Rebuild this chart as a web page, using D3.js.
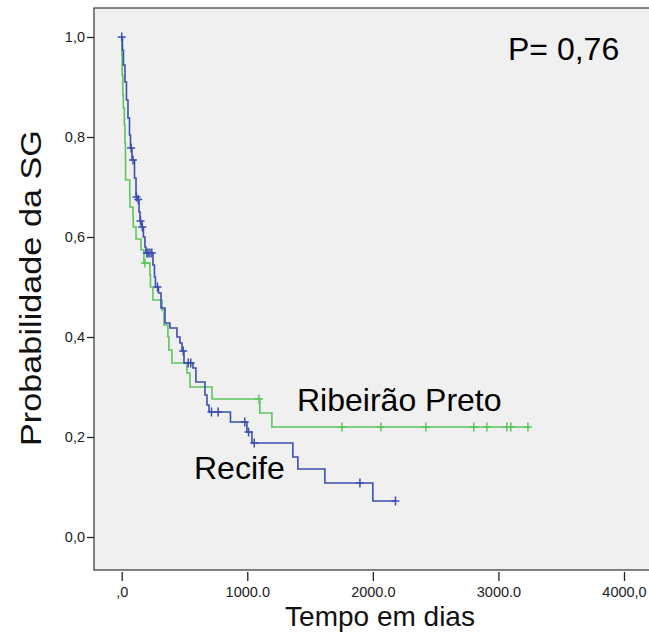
<!DOCTYPE html>
<html><head><meta charset="utf-8">
<script src="https://cdn.jsdelivr.net/npm/d3@7"></script>
<style>body{margin:0;background:#fff}svg{display:block}text{font-family:Arial,"Liberation Sans",sans-serif}</style>
</head><body>
<script>
// ---- data ----
const recifeTime = [6,14,26,38,50,62,70,82,102,114,122,138,146,158,173,185,193,249,261,269,293,313,345,384,440,464,480,496,567,591,663,679,695,866,997,1037,1363,1403,1618,2000];
const recifeSurv = [.974,.944,.91,.874,.838,.804,.778,.754,.718,.68,.675,.65,.632,.62,.60,.58,.568,.544,.52,.50,.488,.458,.428,.418,.40,.388,.372,.348,.338,.31,.284,.264,.25,.23,.21,.188,.16,.136,.108,.072];
const recifeEnd = 2180;
const recifeCensor = [0,75,90,118,132,150,164,200,210,225,240,285,490,530,550,715,768,980,1010,1055,1897,2180];

const ribTime = [1,4,9,13,21,26,30,31,64,66,90,92,114,154,177,225,229,249,321,337,368,376,400,520,544,719,1100,1196];
const ribSurv = [.964,.924,.884,.858,.824,.788,.754,.714,.684,.66,.64,.62,.596,.574,.548,.524,.50,.474,.454,.424,.40,.374,.348,.328,.30,.276,.248,.22];
const ribEnd = 3250;
const ribCensor = [185,1093,1754,2064,2422,2804,2908,3067,3099,3235];

const xTicks = [0,1000,2000,3000,4000];
const xTickLabels = [",0","1000.0","2000.0","3000.0","4000,0"];
const yTicks = [0,0.2,0.4,0.6,0.8,1.0];
const yTickLabels = ["0,0","0,2","0,4","0,6","0,8","1,0"];

// ---- layout ----
const W = 649, H = 637;
const frame = {left: 94, top: 8, right: 700, bottom: 570};
const x = d3.scaleLinear().domain([0,4000]).range([121.7, 624]);
const y = d3.scaleLinear().domain([0,1]).range([537, 37]);

const svg = d3.select("body").append("svg").attr("width", W).attr("height", H);
svg.append("rect").attr("x", frame.left).attr("y", frame.top)
  .attr("width", frame.right - frame.left).attr("height", frame.bottom - frame.top)
  .attr("fill", "#f0f0f0").attr("stroke", "#333").attr("stroke-width", 1.2);

// axes
const gx = svg.append("g").attr("transform", `translate(0,${frame.bottom + 2})`)
  .call(d3.axisBottom(x).tickValues(xTicks).tickFormat((d,i)=>xTickLabels[i]).tickSize(9).tickPadding(6));
const gy = svg.append("g").attr("transform", `translate(${frame.left},0)`)
  .call(d3.axisLeft(y).tickValues(yTicks).tickFormat((d,i)=>yTickLabels[i]).tickSize(7).tickPadding(2));
[gx, gy].forEach(g => {
  g.select(".domain").remove();
  g.selectAll(".tick line").attr("stroke", "#222").attr("stroke-width", 1.3);
  g.selectAll(".tick text").attr("fill", "#222").style("font-size", "14.5px").attr("font-family", "Arial, 'Liberation Sans', sans-serif");
});

// curves
function pts(times, surv, end) {
  const p = [[0,1]];
  times.forEach((t,i) => p.push([t, surv[i]]));
  p.push([end, surv[surv.length-1]]);
  return p;
}
function survAt(times, surv, t) {
  let s = 1;
  for (let i = 0; i < times.length; i++) if (times[i] <= t) s = surv[i];
  return s;
}
const line = d3.line().x(d => x(d[0])).y(d => y(d[1])).curve(d3.curveStepAfter);

function drawSeries(times, surv, end, censor, color) {
  svg.append("path").datum(pts(times, surv, end)).attr("d", line)
    .attr("fill", "none").attr("stroke", color).attr("stroke-width", 1.6);
  const g = svg.append("g").attr("stroke", color).attr("stroke-width", 1.5);
  censor.forEach(t => {
    const cx = x(t), cy = y(survAt(times, surv, t));
    g.append("line").attr("x1", cx - 4).attr("x2", cx + 4).attr("y1", cy).attr("y2", cy);
    g.append("line").attr("x1", cx).attr("x2", cx).attr("y1", cy - 4.5).attr("y2", cy + 4.5);
  });
}
drawSeries(ribTime, ribSurv, ribEnd, ribCensor, "#5ec45e");
drawSeries(recifeTime, recifeSurv, recifeEnd, recifeCensor, "#3d4fb0");

// texts
svg.append("text").attr("x", 380).attr("y", 626).attr("text-anchor", "middle")
  .style("font-size", "28px").attr("fill", "#111").text("Tempo em dias");
svg.append("text").attr("transform", "translate(41,288) rotate(-90)").attr("text-anchor", "middle")
  .style("font-size", "30px").attr("textLength", 316).attr("lengthAdjust", "spacingAndGlyphs")
  .attr("fill", "#111").text("Probabilidade da SG");
svg.append("text").attr("x", 508).attr("y", 60).style("font-size", "32px").attr("fill", "#000").text("P= 0,76");
svg.append("text").attr("x", 297).attr("y", 411).style("font-size", "32px").attr("fill", "#000").text("Ribeirão Preto");
svg.append("text").attr("x", 194).attr("y", 479).style("font-size", "32px").attr("fill", "#000").text("Recife");
</script>
</body></html>
